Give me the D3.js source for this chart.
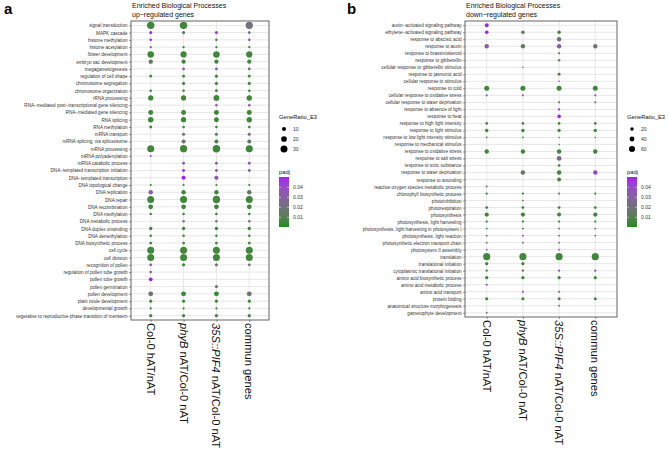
<!DOCTYPE html>
<html><head><meta charset="utf-8">
<script src="https://cdn.jsdelivr.net/npm/d3@7"></script>
<style>body{margin:0;background:#fff}svg{display:block;font-family:"Liberation Sans",Arial,sans-serif}</style>
</head><body><svg id="c" width="669" height="454"></svg>
<script>
// ---------------- DATA ----------------
const xLabels = ["Col-0 hAT/nAT", "phyB nAT/Col-0 nAT", "35S::PIF4 nAT/Col-0 nAT", "commun genes"];

// Panel a: up-regulated
const upTerms = ["signal transduction","MAPK cascade","histone methylation","histone acetylation","flower development","embryo sac development","megagametogenesis","regulation of cell shape","chromosome segregation","chromosome organization","rRNA processing","RNA\u2212mediated post\u2212transcriptional gene silencing","RNA\u2212mediated gene silencing","RNA splicing","RNA methylation","mRNA transport","mRNA splicing, via spliceosome","mRNA processing","mRNA polyadenylation","mRNA catabolic process","DNA\u2212templated transcription initiation","DNA\u2212templated transcription","DNA topological change","DNA replication","DNA repair","DNA recombination","DNA methylation","DNA metabolic process","DNA duplex unwinding","DNA demethylation","DNA biosynthetic process","cell cycle","cell division","recognition of pollen","regulation of pollen tube growth","pollen tube growth","pollen germination","pollen development","plant ovule development","developmental growth","vegetative to reproductive phase transition of meristem"];
const upRatioCol0 = [34,6,4,3,26,12,null,5,null,4,17,null,15,19,5,null,null,30,2,null,null,null,3,12,30,14,4,null,7,4,5,30,30,5,4,9,null,15,6,3,7];
const upPadjCol0  = [.005,.045,.048,.012,.005,.014,null,.005,null,.005,.005,null,.005,.005,.005,null,null,.005,.048,null,null,null,.005,.032,.005,.005,.012,null,.005,.005,.005,.005,.005,.03,.03,.05,null,.02,.008,.005,.01];
const upRatioPhyB = [34,6,null,3,24,11,5,5,6,4,17,null,15,17,4,6,10,32,null,5,5,10,3,12,30,14,4,4,7,4,5,30,30,6,null,null,null,15,6,3,7];
const upPadjPhyB  = [.005,.015,null,.005,.005,.005,.03,.005,.01,.005,.005,null,.005,.005,.005,.02,.02,.005,null,.03,.048,.05,.005,.005,.005,.005,.005,.025,.005,.005,.005,.005,.005,.005,null,null,null,.005,.005,.005,.01];
const upRatioPIF4 = [null,6,4,3,26,11,5,6,6,5,21,4,15,15,4,6,10,34,null,5,5,11,3,12,33,14,4,4,7,4,5,30,30,6,null,null,6,15,6,3,7];
const upPadjPIF4  = [null,.04,.015,.005,.005,.005,.03,.005,.005,.005,.005,.035,.005,.005,.005,.012,.01,.005,null,.03,.028,.032,.005,.005,.005,.005,.005,.02,.005,.005,.005,.005,.005,.02,null,null,.015,.005,.005,.005,.01];
const upRatioComm = [32,5,4,3,24,11,5,5,6,4,18,4,15,18,4,6,10,31,null,5,5,null,3,12,30,14,4,4,7,4,5,30,30,5,null,null,null,15,6,3,7];
const upPadjComm  = [.02,.02,.03,.005,.005,.005,.02,.005,.005,.005,.005,.035,.005,.005,.005,.03,.015,.005,null,.035,.025,null,.005,.015,.005,.005,.008,.022,.005,.005,.005,.005,.005,.02,null,null,null,.02,.005,.005,.01];
const upSizeTicks = [10, 20, 30];

// Panel b: down-regulated
const downTerms = ["auxin\u2212activated signaling pathway","ethylene\u2212activated signaling pathway","response to abscisic acid","response to auxin","response to brassinosteroid","response to gibberellin","cellular response to gibberellin stimulus","response to jasmonic acid","cellular response to stimulus","response to cold","cellular response to oxidative stress","cellular response to water deprivation","response to absence of light","response to heat","response to high light intensity","response to light stimulus","response to low light intensity stimulus","response to mechanical stimulus","response to oxidative stress","response to salt stress","response to toxic substance","response to water deprivation","response to wounding","reactive oxygen species metabolic process","chlorophyll biosynthetic process","photoinhibition","photorespiration","photosynthesis","photosynthesis, light harvesting","photosynthesis, light harvesting in photosystem I","photosynthesis, light reaction","photosynthetic electron transport chain","photosystem II assembly","translation","translational initiation","cytoplasmic translational initiation","amino acid biosynthetic process","amino acid metabolic process","amino acid transport","protein folding","anatomical structure morphogenesis","gametophyte development"];
const downRatioCol0 = [25,22,null,32,null,null,null,null,null,42,7,null,null,null,12,20,5,null,32,null,null,null,null,6,9,null,13,30,9,6,6,6,5,85,18,9,18,8,null,17,null,6];
const downPadjCol0  = [.05,.05,null,.03,null,null,null,null,null,.005,.035,null,null,null,.005,.005,.005,null,.005,null,null,null,null,.035,.005,null,.005,.005,.005,.005,.02,.02,.03,.005,.005,.005,.005,.035,null,.005,null,.02];
const downRatioPhyB = [null,22,null,32,null,null,4,null,null,42,7,null,null,null,12,20,5,null,32,null,null,34,null,null,9,5,13,30,9,6,6,6,null,85,18,9,18,null,8,17,null,null];
const downPadjPhyB  = [null,.015,null,.012,null,null,.04,null,null,.005,.035,null,null,null,.005,.005,.005,null,.005,null,null,.015,null,null,.005,.005,.005,.005,.005,.005,.045,.015,null,.005,.005,.005,.005,null,.035,.005,null,null];
const downRatioPIF4 = [null,20,32,32,8,10,null,14,4,42,null,8,9,22,12,17,4,4,34,38,12,34,26,null,8,null,13,26,9,6,6,6,5,85,null,9,17,null,8,15,6,null];
const downPadjPIF4  = [null,.005,.02,.03,.005,.02,null,.005,.045,.005,null,.01,.045,.05,.005,.005,.005,.005,.005,.025,.005,.005,.005,null,.02,null,.005,.005,.005,.005,.02,.02,.045,.005,null,.04,.005,null,.02,.005,.02,null];
const downRatioComm = [null,null,null,32,null,null,null,null,null,42,7,7,null,null,12,19,4,null,32,null,null,34,null,null,9,null,13,30,9,6,6,null,null,85,null,9,17,null,null,15,null,null];
const downPadjComm  = [null,null,null,.02,null,null,null,null,null,.005,.04,.035,null,null,.005,.005,.005,null,.005,null,null,.04,null,null,.005,null,.005,.005,.005,.005,.02,null,null,.005,null,.04,.005,null,null,.005,null,null];
const downSizeTicks = [20, 40, 60];

const padjTicks = [0.01, 0.02, 0.03, 0.04];

// ---------------- DRAW ----------------
const svg = d3.select("#c");
const FONT = '"Liberation Sans",Arial,sans-serif';
const color = d3.scaleLinear().domain([0.0003, 0.0503]).range(["#228B22", "#A020F0"]).interpolate(d3.interpolateLab).clamp(true);

function panel(o) {
  const g = svg.append("g");
  const x = d3.scalePoint().domain(xLabels).range([o.x0, o.x1]).padding(0.6);
  const y = d3.scalePoint().domain(o.terms).range([o.y0, o.y1]).padding(0.6);
  const r = d3.scaleSqrt().domain([0, o.sizeMax]).range([0, o.rMax]);

  g.append("g").selectAll("line").data(o.terms).join("line")
    .attr("x1", o.x0).attr("x2", o.x1).attr("y1", d => y(d)).attr("y2", d => y(d))
    .attr("stroke", "#e4e4e4").attr("stroke-width", 0.9);
  g.append("g").selectAll("line").data(xLabels).join("line")
    .attr("x1", d => x(d)).attr("x2", d => x(d)).attr("y1", o.y0).attr("y2", o.y1)
    .attr("stroke", "#e4e4e4").attr("stroke-width", 0.9);

  const pts = [];
  o.cols.forEach((c, ci) => {
    c.ratio.forEach((v, i) => {
      if (v != null) pts.push({ x: xLabels[ci], y: o.terms[i], v, p: c.padj[i] });
    });
  });
  g.append("g").selectAll("circle").data(pts).join("circle")
    .attr("cx", d => x(d.x)).attr("cy", d => y(d.y)).attr("r", d => r(d.v))
    .attr("fill", d => color(d.p));

  g.append("rect").attr("x", o.x0).attr("y", o.y0).attr("width", o.x1 - o.x0).attr("height", o.y1 - o.y0)
    .attr("fill", "none").attr("stroke", "#555").attr("stroke-width", 0.9);

  const ya = d3.axisLeft(y).tickSize(2).tickPadding(1.5);
  const yg = g.append("g").attr("transform", `translate(${o.x0},0)`).call(ya);
  yg.select(".domain").remove();
  yg.selectAll("line").attr("stroke", "#333").attr("stroke-width", 0.5);
  yg.selectAll("text").attr("font-size", o.yFont).attr("fill", "#333").attr("font-family", FONT);

  const xa = d3.axisBottom(x).tickSize(2).tickFormat("");
  const xg = g.append("g").attr("transform", `translate(0,${o.y1})`).call(xa);
  xg.select(".domain").remove();
  xg.selectAll("line").attr("stroke", "#333").attr("stroke-width", 0.5);
  xLabels.forEach(lab => {
    const t = g.append("text").attr("transform", `translate(${x(lab) - 4},${o.y1 + 3}) rotate(90)`)
      .attr("font-size", 11.2).attr("fill", "#111").attr("font-family", FONT);
    const m = lab.match(/^(phyB|35S::PIF4)(.*)$/);
    if (m) {
      t.append("tspan").attr("font-style", "italic").text(m[1]);
      t.append("tspan").text(m[2]);
    } else t.text(lab);
  });

  g.append("text").attr("x", o.x0 + 1).attr("y", 7.5).attr("font-size", 7).attr("fill", "#111").text("Enriched Biological Processes");
  g.append("text").attr("x", o.x0 + 1).attr("y", 16.5).attr("font-size", 7).attr("fill", "#111").text(o.sub);
  g.append("text").attr("x", o.lx).attr("y", 14).attr("font-size", 15).attr("font-weight", "bold").attr("fill", "#000").text(o.letter);

  const L = o.leg;
  g.append("text").attr("x", L.x).attr("y", L.y).attr("font-size", 5.8).attr("fill", "#111").text("GeneRatio_E3");
  o.sizeTicks.forEach((s, i) => {
    const cy = L.y + 10 + i * 10;
    g.append("circle").attr("cx", L.x + 5).attr("cy", cy).attr("r", r(s)).attr("fill", "#000");
    g.append("text").attr("x", L.x + 14).attr("y", cy + 1.8).attr("font-size", 5).attr("fill", "#333").text(s);
  });
  const cbY0 = L.y + 58, cbH = 50, cbW = 10;
  g.append("text").attr("x", L.x).attr("y", cbY0 - 3).attr("font-size", 5.8).attr("fill", "#111").text("padj");
  const gid = "grad" + o.letter;
  const grad = svg.append("defs").append("linearGradient").attr("id", gid)
    .attr("x1", 0).attr("y1", 1).attr("x2", 0).attr("y2", 0);
  d3.range(0, 1.0001, 0.1).forEach(t => {
    const v = color.domain()[0] + t * (color.domain()[1] - color.domain()[0]);
    grad.append("stop").attr("offset", t).attr("stop-color", color(v));
  });
  g.append("rect").attr("x", L.x).attr("y", cbY0).attr("width", cbW).attr("height", cbH).attr("fill", `url(#${gid})`);
  const cs = d3.scaleLinear().domain(color.domain()).range([cbY0 + cbH, cbY0]);
  padjTicks.forEach(t => {
    const yy = cs(t);
    g.append("line").attr("x1", L.x).attr("x2", L.x + 2).attr("y1", yy).attr("y2", yy).attr("stroke", "#fff").attr("stroke-width", 0.5);
    g.append("line").attr("x1", L.x + cbW - 2).attr("x2", L.x + cbW).attr("y1", yy).attr("y2", yy).attr("stroke", "#fff").attr("stroke-width", 0.5);
    g.append("text").attr("x", L.x + cbW + 4).attr("y", yy + 1.8).attr("font-size", 5).attr("fill", "#333").text(t.toFixed(2));
  });
}

panel({
  letter: "a", lx: 4, sub: "up\u2212regulated genes",
  x0: 131, x1: 269, y0: 21, y1: 320, terms: upTerms, yFont: 4.6,
  sizeMax: 30, rMax: 3.5, sizeTicks: upSizeTicks,
  cols: [{ ratio: upRatioCol0, padj: upPadjCol0 }, { ratio: upRatioPhyB, padj: upPadjPhyB },
         { ratio: upRatioPIF4, padj: upPadjPIF4 }, { ratio: upRatioComm, padj: upPadjComm }],
  leg: { x: 279, y: 119 }
});
panel({
  letter: "b", lx: 347, sub: "down\u2212regulated genes",
  x0: 465, x1: 617, y0: 21, y1: 317, terms: downTerms, yFont: 4.6,
  sizeMax: 60, rMax: 3.0, sizeTicks: downSizeTicks,
  cols: [{ ratio: downRatioCol0, padj: downPadjCol0 }, { ratio: downRatioPhyB, padj: downPadjPhyB },
         { ratio: downRatioPIF4, padj: downPadjPIF4 }, { ratio: downRatioComm, padj: downPadjComm }],
  leg: { x: 627, y: 119 }
});
</script></body></html>
